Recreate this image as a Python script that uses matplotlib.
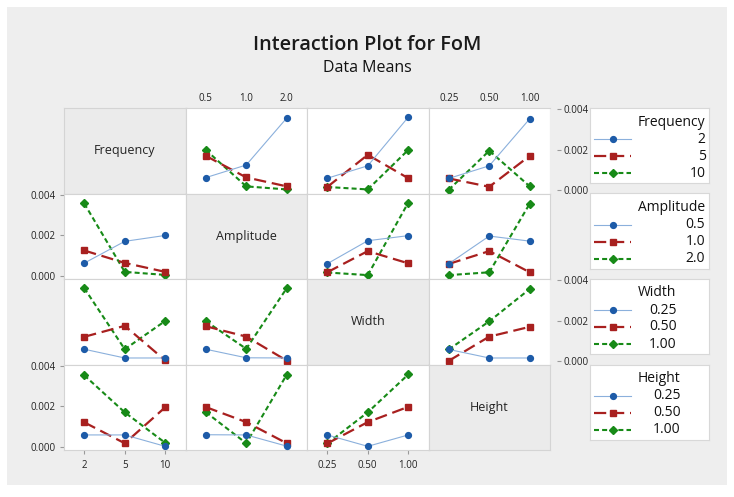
import numpy as np
import matplotlib
matplotlib.use("Agg")
import matplotlib.pyplot as plt
from matplotlib.patches import Rectangle

plt.rcParams['font.family'] = ['Open Sans', 'DejaVu Sans']

# factors and their levels
factors = ['Frequency', 'Amplitude', 'Width', 'Height']
freq_levels = ['2', '5', '10']
amp_levels = ['0.5', '1.0', '2.0']
width_levels = ['0.25', '0.50', '1.00']
height_levels = ['0.25', '0.50', '1.00']
levels = [freq_levels, amp_levels, width_levels, height_levels]

# cell means of FoM, rows = first factor level, cols = second factor level
freq_amp = [[0.00063, 0.00125, 0.00356],
            [0.00170, 0.00064, 0.00020],
            [0.00199, 0.00020, 0.00005]]
freq_width = [[0.00060, 0.00121, 0.00360],
              [0.00017, 0.00175, 0.00060],
              [0.00017, 0.00005, 0.00199]]
freq_height = [[0.00059, 0.00121, 0.00352],
               [0.00059, 0.00018, 0.00170],
               [0.00003, 0.00195, 0.00020]]
amp_width = [[0.00060, 0.00173, 0.00198],
             [0.00018, 0.00122, 0.00062],
             [0.00017, 0.00004, 0.00360]]
amp_height = [[0.00060, 0.00196, 0.00171],
              [0.00059, 0.00122, 0.00018],
              [0.00004, 0.00018, 0.00355]]
width_height = [[0.00059, 0.00017, 0.00017],
                [0.00003, 0.00122, 0.00170],
                [0.00059, 0.00197, 0.00356]]

pairs = {(0, 1): freq_amp, (0, 2): freq_width, (0, 3): freq_height,
         (1, 2): amp_width, (1, 3): amp_height, (2, 3): width_height}

y_ticks = [0.000, 0.002, 0.004]

styles = [dict(color='#8bb0dc', lw=0.8, marker='o', mfc='#1d5ba8', mec='#1d5ba8', ms=4.2),
          dict(color='#a8201f', lw=1.6, marker='s', mfc='#a8201f', mec='#a8201f', ms=4.0, dashes=(5.5, 2.6)),
          dict(color='#178a17', lw=1.5, marker='D', mfc='#178a17', mec='#178a17', ms=4.3, dashes=(2.4, 1.5))]

W, H = 734, 497
fig = plt.figure(figsize=(W / 100, H / 100), dpi=100)
fig.patch.set_facecolor('white')
fig.patches.append(Rectangle((7 / W, 12 / H), 720 / W, 478 / H, transform=fig.transFigure,
                             facecolor='#eeeeee', edgecolor='none', zorder=-5))

fig.text(367 / W, 1 - 50 / H, 'Interaction Plot for FoM', ha='center', va='baseline',
         fontsize=14.3, fontweight='semibold', color='#1a1a1a')
fig.text(367 / W, 1 - 72 / H, 'Data Means', ha='center', va='baseline',
         fontsize=11.5, fontweight='medium', color='#111111')

left0, top0 = 64, 108
pw, ph = 121.5, 85.5
grid_c = '#d4d4d4'
tick_c = '#9a9a9a'

for i in range(4):
    for j in range(4):
        x0 = left0 + j * pw
        y0 = top0 + i * ph
        ax = fig.add_axes([x0 / W, 1 - (y0 + ph) / H, pw / W, ph / H])
        for s in ax.spines.values():
            s.set_color(grid_c)
            s.set_linewidth(0.8)
        ax.tick_params(length=0, labelsize=7, colors='#222222')
        ax.tick_params(color=tick_c)
        ax.set_xticks([])
        ax.set_yticks([])
        ax.set_xlim(-0.5, 2.5)
        ax.set_ylim(-0.00015, 0.00405)
        if i == j:
            ax.set_facecolor('#ebebeb')
            ax.text(0.5, 0.5, factors[i], ha='center', va='center', fontsize=9,
                    color='#222222', transform=ax.transAxes)
            continue
        ax.set_facecolor('white')
        if i < j:
            table = np.array(pairs[(i, j)])
        else:
            table = np.array(pairs[(j, i)]).T
        xs = np.arange(len(levels[j]))
        for k, row in enumerate(table):
            ax.plot(xs, row, clip_on=False, zorder=3 + (2 - k), **styles[k])

        # x tick labels: bottom for cols 0/2, top for cols 1/3
        if i == 3 and j in (0, 2):
            ax.set_xticks(xs)
            ax.set_xticklabels(levels[j])
            ax.tick_params(axis='x', length=3, pad=4)
        if i == 0 and j in (1, 3):
            ax.set_xticks(xs)
            ax.set_xticklabels(levels[j])
            ax.xaxis.tick_top()
            ax.tick_params(axis='x', length=0, pad=3)
        # y tick labels: left for rows 1/3, right for rows 0/2
        if j == 0 and i in (1, 3):
            ax.set_yticks(y_ticks)
            ax.set_yticklabels(['%.3f' % v for v in y_ticks])
            ax.tick_params(axis='y', length=3, pad=3)
        if j == 3 and i in (0, 2):
            ax.set_yticks(y_ticks)
            ax.set_yticklabels(['%.3f' % v for v in y_ticks])
            ax.yaxis.tick_right()
            ax.spines['right'].set_position(('outward', 5))
            ax.spines['right'].set_visible(False)
            ax.tick_params(axis='y', length=3, pad=2)
            # redraw the panel edge where the spine used to be
            ax.axvline(2.5, color=grid_c, lw=0.8)

# legends, one per row
fig.canvas.draw()
renderer = fig.canvas.get_renderer()
for i in range(4):
    ly0 = top0 + i * ph
    lax = fig.add_axes([590 / W, 1 - (ly0 + 75) / H, 119 / W, 75 / H])
    lax.set_facecolor('white')
    for s in lax.spines.values():
        s.set_color('#d8d8d8')
        s.set_linewidth(0.8)
    lax.set_xticks([])
    lax.set_yticks([])
    lax.set_xlim(0, 119)
    lax.set_ylim(75, 0)
    t = lax.text(48, 14, factors[i], ha='left', va='center', fontsize=10, color='#111111')
    bb = t.get_window_extent(renderer)
    right = lax.transData.inverted().transform((bb.x1, bb.y0))[0]
    for k, lev in enumerate(levels[i]):
        yy = 31 + k * 17
        st = dict(styles[k])
        lax.plot([4, 41], [yy, yy], **{kk: v for kk, v in st.items() if kk not in ('marker', 'mfc', 'mec', 'ms')})
        lax.plot([23], [yy], linestyle='none', marker=st['marker'], mfc=st['mfc'], mec=st['mec'], ms=st['ms'])
        lax.text(right, yy, lev, ha='right', va='center', fontsize=10, color='#111111')

fig.savefig('out.png', dpi=100, facecolor=fig.get_facecolor())
